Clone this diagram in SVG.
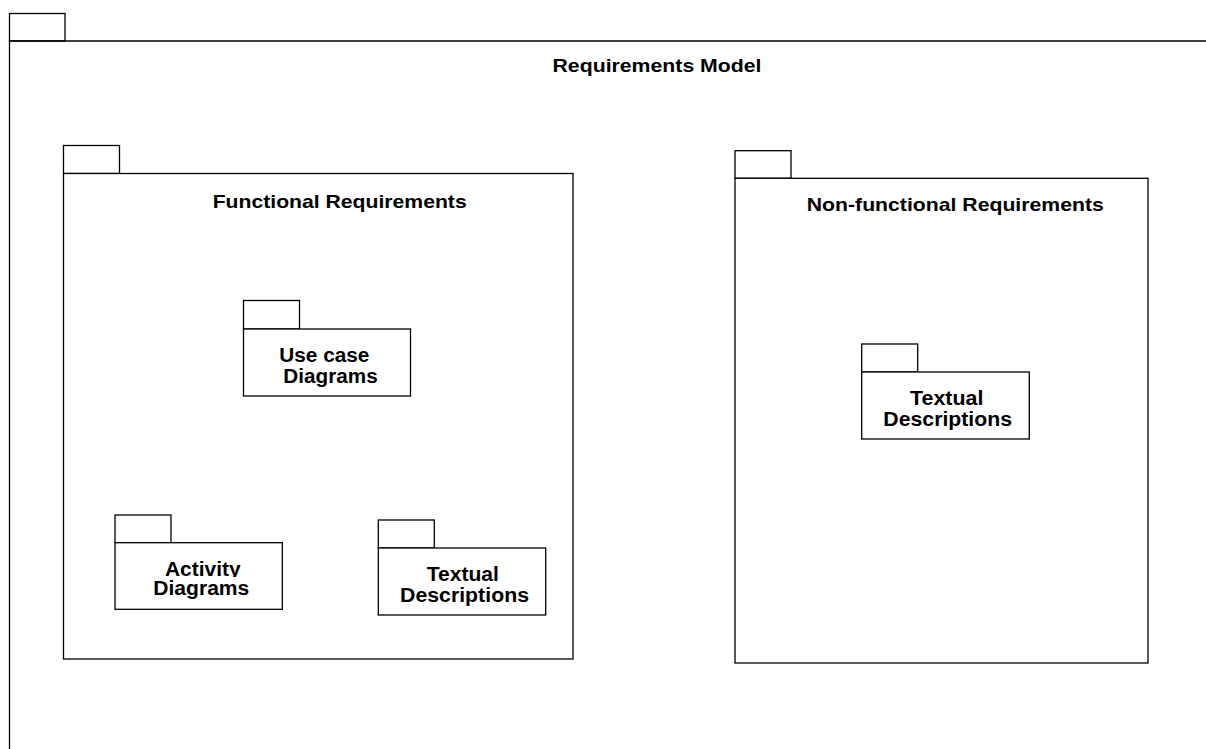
<svg xmlns="http://www.w3.org/2000/svg" width="1206" height="749" viewBox="0 0 1206 749">
  <style>
    .ln { fill: #ffffff; stroke: #000000; stroke-width: 1.3; }
    .open { fill: none; stroke: #000000; stroke-width: 1.3; }
    .t { font-family: "Liberation Sans", Arial, sans-serif; font-weight: bold; fill: #000000; text-anchor: middle; }
    .title { font-size: 18.6px; }
    .lbl { font-size: 19.5px; }
  </style>
  <defs>
    <clipPath id="clipActivity">
      <rect x="115" y="543" width="168" height="34"/>
    </clipPath>
  </defs>
  <rect x="0" y="0" width="1206" height="749" fill="#ffffff"/>

  <g id="requirements-model">
    <rect class="ln" x="9.5" y="13.5" width="55.5" height="27.5"/>
    <path class="open" d="M1206,41 H9.5 V749"/>
    <text class="t title" x="657" y="72" textLength="209" lengthAdjust="spacingAndGlyphs">Requirements Model</text>
  </g>

  <g id="functional-requirements">
    <rect class="ln" x="63.5" y="145.5" width="56" height="28"/>
    <rect class="ln" x="63.5" y="173.5" width="509.5" height="485.5"/>
    <text class="t title" x="339.7" y="207.7" textLength="254" lengthAdjust="spacingAndGlyphs">Functional Requirements</text>
  </g>

  <g id="use-case-diagrams">
    <rect class="ln" x="243.5" y="300.5" width="56" height="28.5"/>
    <rect class="ln" x="243.5" y="329" width="167" height="67"/>
    <text class="t lbl" x="324.3" y="361.7" textLength="90" lengthAdjust="spacingAndGlyphs">Use case</text>
    <text class="t lbl" x="330.5" y="382.7" textLength="94.3" lengthAdjust="spacingAndGlyphs">Diagrams</text>
  </g>

  <g id="activity-diagrams">
    <rect class="ln" x="115" y="515" width="56" height="27.7"/>
    <rect class="ln" x="115" y="542.7" width="167.3" height="66.6"/>
    <text class="t lbl" x="202.8" y="575.5" textLength="75.7" lengthAdjust="spacingAndGlyphs" clip-path="url(#clipActivity)">Activity</text>
    <text class="t lbl" x="201.3" y="595.2" textLength="96" lengthAdjust="spacingAndGlyphs">Diagrams</text>
  </g>

  <g id="functional-textual-descriptions">
    <rect class="ln" x="378.3" y="520" width="56" height="28"/>
    <rect class="ln" x="378.3" y="548" width="167.4" height="67"/>
    <text class="t lbl" x="462.8" y="580.7" textLength="72.3" lengthAdjust="spacingAndGlyphs">Textual</text>
    <text class="t lbl" x="464.5" y="601.7" textLength="129" lengthAdjust="spacingAndGlyphs">Descriptions</text>
  </g>

  <g id="non-functional-requirements">
    <rect class="ln" x="735" y="150.7" width="56" height="27.6"/>
    <rect class="ln" x="735" y="178.3" width="413" height="484.7"/>
    <text class="t title" x="955.3" y="210.7" textLength="297" lengthAdjust="spacingAndGlyphs">Non-functional Requirements</text>
  </g>

  <g id="nonfunctional-textual-descriptions">
    <rect class="ln" x="861.7" y="344" width="56" height="28"/>
    <rect class="ln" x="861.7" y="372" width="167.6" height="67"/>
    <text class="t lbl" x="946.7" y="405" textLength="73.3" lengthAdjust="spacingAndGlyphs">Textual</text>
    <text class="t lbl" x="947.7" y="426" textLength="128.7" lengthAdjust="spacingAndGlyphs">Descriptions</text>
  </g>

  <g id="connectors"></g>
</svg>
